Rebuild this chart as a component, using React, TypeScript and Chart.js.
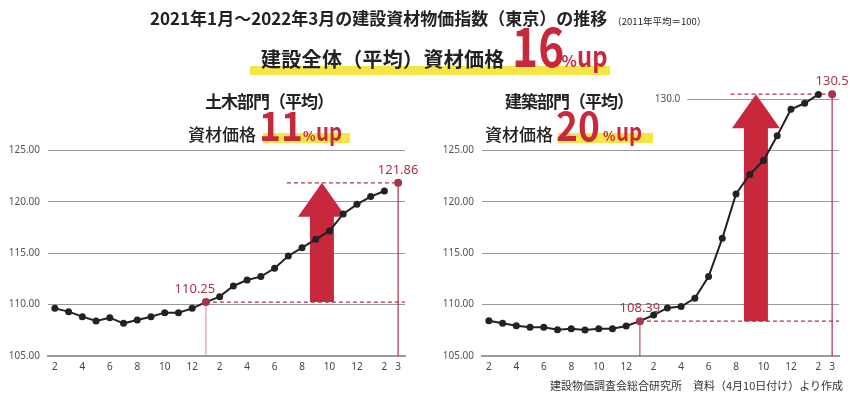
import React, { useEffect, useRef } from 'react';
import { Chart, registerables } from 'chart.js';

Chart.register(...registerables);

// ---- data ----
const monthLabels = ['2020/2','2020/3','2020/4','2020/5','2020/6','2020/7','2020/8','2020/9','2020/10','2020/11','2020/12','2021/1','2021/2','2021/3','2021/4','2021/5','2021/6','2021/7','2021/8','2021/9','2021/10','2021/11','2021/12','2022/1','2022/2','2022/3'];
const tickLabels = ['2','','4','','6','','8','','10','','12','','2','','4','','6','','8','','10','','12','','2','3'];
const yTicks = [105, 110, 115, 120, 125];
const civilValues = [109.64,109.32,108.83,108.41,108.73,108.18,108.51,108.83,109.22,109.22,109.64,110.25,110.78,111.82,112.40,112.73,113.54,114.74,115.55,116.36,117.18,118.83,119.77,120.52,121.07];
const civilLatest = 121.86;
const archValues = [108.44,108.18,107.95,107.79,107.79,107.56,107.66,107.53,107.66,107.66,107.92,108.39,108.99,109.68,109.81,110.62,112.73,116.46,120.78,122.68,124.03,126.44,129.03,129.61,130.47];
const archLatest = 130.5;
const baseIndex = 11;   // 2021/1
const latestIndex = 25; // 2022/3
const archExtraTick = 130;

const CJK = "'Noto Sans CJK JP', 'Noto Sans', sans-serif";
const RED = '#c8283c';
const DARK_RED = '#a8344a';
const YELLOW = '#f5e545';

const annotPlugin = {
  id: 'annot',
  beforeDatasetsDraw(chart: any, _a: any, o: any) {
    const { ctx, chartArea, scales } = chart;
    const x = scales.x, y = scales.y;
    ctx.save();
    // extra partial grid line
    if (o.extraTick != null) {
      const yy = Math.round(y.getPixelForValue(o.extraTick)) + 0.5;
      const xs = x.getPixelForValue(o.extraFrom);
      ctx.strokeStyle = '#999';
      ctx.lineWidth = 1;
      ctx.beginPath();
      ctx.moveTo(xs, yy);
      ctx.lineTo(chartArea.right, yy);
      ctx.stroke();
      ctx.fillStyle = '#555';
      ctx.font = "10px 'Noto Sans', sans-serif";
      ctx.textAlign = 'right';
      ctx.textBaseline = 'middle';
      ctx.fillText(o.extraTick.toFixed(1), xs - 7, yy);
    }
    // arrow
    const xc = x.getPixelForValue(o.arrowAt);
    const yb = y.getPixelForValue(o.from);
    const yt = y.getPixelForValue(o.to);
    const sw = 12, hw = 24, hl = 34;
    ctx.fillStyle = RED;
    ctx.beginPath();
    ctx.moveTo(xc - sw, yb);
    ctx.lineTo(xc - sw, yt + hl);
    ctx.lineTo(xc - hw, yt + hl);
    ctx.lineTo(xc, yt);
    ctx.lineTo(xc + hw, yt + hl);
    ctx.lineTo(xc + sw, yt + hl);
    ctx.lineTo(xc + sw, yb);
    ctx.closePath();
    ctx.fill();
    // verticals
    const xb = x.getPixelForValue(baseIndex);
    const xl = x.getPixelForValue(latestIndex);
    ctx.strokeStyle = o.baseLineColor;
    ctx.lineWidth = 1;
    ctx.beginPath();
    ctx.moveTo(xb, yb);
    ctx.lineTo(xb, chartArea.bottom);
    ctx.stroke();
    ctx.strokeStyle = DARK_RED;
    ctx.lineWidth = 1.2;
    ctx.beginPath();
    ctx.moveTo(xl, yt);
    ctx.lineTo(xl, chartArea.bottom);
    ctx.stroke();
    // dashed
    ctx.setLineDash([4, 3]);
    ctx.lineWidth = 1.3;
    ctx.strokeStyle = DARK_RED;
    ctx.beginPath();
    ctx.moveTo(xb, yb);
    ctx.lineTo(chartArea.right, yb);
    ctx.stroke();
    ctx.beginPath();
    ctx.moveTo(x.getPixelForValue(o.dashFrom), yt);
    ctx.lineTo(xl, yt);
    ctx.stroke();
    ctx.restore();
  },
  afterDatasetsDraw(chart: any, _a: any, o: any) {
    const { ctx, scales } = chart;
    const x = scales.x, y = scales.y;
    ctx.save();
    ctx.fillStyle = DARK_RED;
    ctx.font = "13px 'Noto Sans', sans-serif";
    ctx.textAlign = 'center';
    ctx.textBaseline = 'bottom';
    ctx.fillText(String(o.from), x.getPixelForValue(baseIndex) + o.baseLabelDx, y.getPixelForValue(o.from) - 6);
    ctx.fillText(String(o.to), x.getPixelForValue(latestIndex), y.getPixelForValue(o.to) - 6);
    ctx.restore();
  },
};

function buildConfig(values: number[], latest: number, axisWidth: number, padRight: number, annot: any): any {
  const latestData = monthLabels.map((_, i) => (i === latestIndex ? latest : null));
  return {
    type: 'line',
    data: {
      labels: monthLabels,
      datasets: [
        {
          data: values,
          borderColor: '#222',
          borderWidth: 2,
          pointRadius: values.map((_, i) => (i === baseIndex ? 4 : 3.5)),
          pointBackgroundColor: values.map((_, i) => (i === baseIndex ? DARK_RED : '#222')),
          pointBorderWidth: 0,
          tension: 0,
        },
        {
          data: latestData,
          showLine: false,
          pointRadius: 4,
          pointBackgroundColor: DARK_RED,
          pointBorderWidth: 0,
        },
      ],
    },
    options: {
      responsive: false,
      animation: false,
      devicePixelRatio: 1,
      events: [],
      layout: { padding: { top: 89, right: padRight, left: 0, bottom: 0 } },
      plugins: { legend: { display: false }, tooltip: { enabled: false }, annot },
      scales: {
        x: {
          type: 'category',
          offset: true,
          grid: { display: false, drawTicks: false },
          border: { display: true, color: '#9a9a9a', width: 2 },
          ticks: {
            autoSkip: false,
            maxRotation: 0,
            padding: 5,
            color: '#444',
            font: { size: 10, family: "'Noto Sans', sans-serif" },
            callback: (_v: any, i: number) => tickLabels[i],
          },
          afterFit: (s: any) => { s.height = 41; },
        },
        y: {
          min: 105,
          max: 131,
          grid: { color: '#999', lineWidth: 1, drawTicks: false },
          border: { display: false },
          ticks: {
            padding: 8,
            color: '#555',
            font: { size: 10, family: "'Noto Sans', sans-serif" },
            callback: (v: number) => v.toFixed(2),
          },
          afterBuildTicks: (s: any) => { s.ticks = yTicks.map((v) => ({ value: v })); },
          afterFit: (s: any) => { s.width = axisWidth; },
        },
      },
    },
    plugins: [annotPlugin],
  };
}

function IndexChart(props: { left: number; width: number; config: () => any }) {
  const ref = useRef<HTMLCanvasElement>(null);
  useEffect(() => {
    const chart = new Chart(ref.current as HTMLCanvasElement, props.config());
    return () => chart.destroy();
  }, []);
  return (
    <canvas
      ref={ref}
      width={props.width}
      height={397}
      style={{ position: 'absolute', left: props.left, top: 0, width: props.width, height: 397 }}
    />
  );
}

const txt = (extra: React.CSSProperties): React.CSSProperties => ({
  position: 'absolute',
  whiteSpace: 'nowrap',
  lineHeight: 1,
  fontFamily: CJK,
  color: '#222',
  ...extra,
});

function BigNum(props: { text: string; size: number; sx: number; w: number }) {
  return (
    <span style={{ display: 'inline-block', width: props.w, overflow: 'visible' }}>
      <span
        style={{
          display: 'inline-block',
          fontSize: props.size,
          fontWeight: 700,
          color: RED,
          transform: `scaleX(${props.sx})`,
          transformOrigin: 'left bottom',
        }}
      >
        {props.text}
      </span>
    </span>
  );
}

function PctUp(props: { pct: number; up: number }) {
  return (
    <span style={{ color: RED, fontWeight: 700 }}>
      <span style={{ fontSize: props.pct }}>%</span>
      <span style={{ fontSize: props.up, display: 'inline-block', transform: 'scaleX(0.85)', transformOrigin: 'left bottom' }}>up</span>
    </span>
  );
}

export default function App() {
  const civilAnnot = { arrowAt: 19.45, from: civilValues[baseIndex], to: civilLatest, dashFrom: 16.9, baseLabelDx: -11, baseLineColor: '#d58a96' };
  const archAnnot = { arrowAt: 19.45, from: archValues[baseIndex], to: archLatest, dashFrom: 17.6, baseLabelDx: 0, baseLineColor: DARK_RED, extraTick: archExtraTick, extraFrom: 14.45 };
  return (
    <div style={{ position: 'absolute', left: 0, top: 0, width: 851, height: 397, background: '#fff', overflow: 'hidden' }}>
      <IndexChart left={0} width={425} config={() => buildConfig(civilValues, civilLatest, 48, 20, civilAnnot)} />
      <IndexChart left={430} width={421} config={() => buildConfig(archValues, archLatest, 52, 12, archAnnot)} />

      {/* yellow highlight bars */}
      <div style={{ position: 'absolute', left: 250, top: 66, width: 360, height: 9, background: YELLOW }} />
      <div style={{ position: 'absolute', left: 263, top: 133, width: 87, height: 10, background: YELLOW }} />
      <div style={{ position: 'absolute', left: 558, top: 133, width: 95, height: 10, background: YELLOW }} />

      {/* main title */}
      <div style={txt({ left: 150, top: 9, fontSize: 17, fontWeight: 700 })}>
        2021年1月～2022年3月の建設資材物価指数（東京）の推移
        <span style={{ fontSize: 9.5, fontWeight: 400, marginLeft: 5 }}>（2011年平均＝100）</span>
      </div>

      {/* overall */}
      <div style={txt({ left: 261, top: 17, display: 'flex', alignItems: 'baseline' })}>
        <span style={{ fontSize: 20, fontWeight: 700, marginRight: 7, letterSpacing: 0.3 }}>建設全体（平均）資材価格</span>
        <BigNum text="16" size={54} sx={0.82} w={50} />
        <PctUp pct={16} up={28} />
      </div>

      {/* civil */}
      <div style={txt({ left: 205, top: 92, fontSize: 17, fontWeight: 700, letterSpacing: -1 })}>土木部門（平均）</div>
      <div style={txt({ left: 188, top: 104, display: 'flex', alignItems: 'baseline' })}>
        <span style={{ fontSize: 17, fontWeight: 500, marginRight: 3 }}>資材価格</span>
        <BigNum text="11" size={40} sx={0.93} w={44} />
        <PctUp pct={13} up={24} />
      </div>

      {/* architecture */}
      <div style={txt({ left: 505, top: 92, fontSize: 17, fontWeight: 700, letterSpacing: -1 })}>建築部門（平均）</div>
      <div style={txt({ left: 485, top: 104, display: 'flex', alignItems: 'baseline' })}>
        <span style={{ fontSize: 17, fontWeight: 500, marginRight: 3 }}>資材価格</span>
        <BigNum text="20" size={40} sx={0.93} w={47} />
        <PctUp pct={13} up={24} />
      </div>

      {/* source */}
      <div style={txt({ left: 550, top: 380, fontSize: 11, color: '#333' })}>建設物価調査会総合研究所　資料（4月10日付け）より作成</div>
    </div>
  );
}
